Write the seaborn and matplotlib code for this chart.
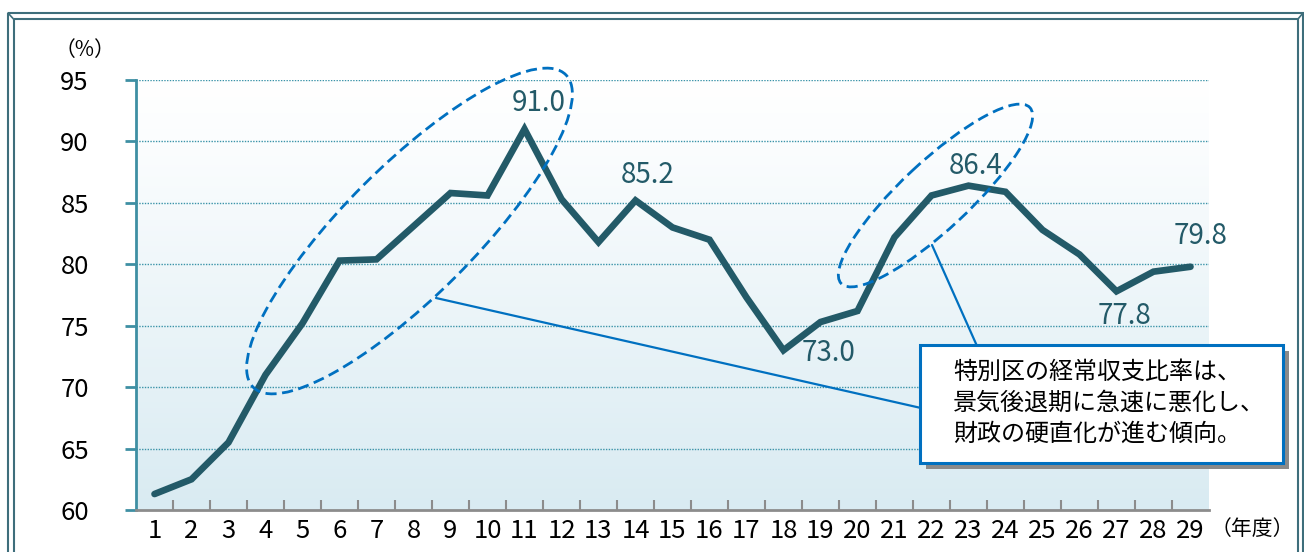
import numpy as np
import pandas as pd
import seaborn as sns
import matplotlib
matplotlib.use("Agg")
import matplotlib.pyplot as plt
from matplotlib.patches import Ellipse, Rectangle
from matplotlib.lines import Line2D
from matplotlib.transforms import Affine2D

# データ（年度と経常収支比率）
years = list(range(1, 30))
ratios = [61.3, 62.5, 65.5, 71.0, 75.2, 80.3, 80.4, 83.1, 85.8, 85.6,
          91.0, 85.3, 81.8, 85.2, 83.0, 82.0, 77.3, 73.0, 75.3, 76.2,
          82.2, 85.6, 86.4, 85.9, 82.8, 80.8, 77.8, 79.4, 79.8]
label_years = [11, 14, 18, 23, 27, 29]
y_ticks = [60, 65, 70, 75, 80, 85, 90, 95]
callout_text = "特別区の経常収支比率は、\n景気後退期に急速に悪化し、\n財政の硬直化が進む傾向。"

W, H = 1304, 552
sns.set_theme(style="white")
plt.rcParams['font.family'] = ['Noto Sans CJK JP', 'DejaVu Sans']

fig = plt.figure(figsize=(W / 100, H / 100), dpi=100)
fig.patch.set_facecolor("white")
ax = fig.add_axes([136 / W, 42 / H, 1073 / W, 430 / H])

# 画像座標(px)で描くための変換
px = Affine2D().scale(1 / W, -1 / H).translate(0, 1) + fig.transFigure

# 背景グラデーション
grad = np.linspace(0, 1, 256).reshape(-1, 1)
cmap = matplotlib.colors.LinearSegmentedColormap.from_list(
    "bg", [(0, "#ffffff"), (0.15, "#fbfdfe"), (1, "#d9ebf2")])
ax.imshow(grad, aspect="auto", cmap=cmap, extent=[0, 1, 0, 1],
          transform=ax.transAxes, zorder=0)

df = pd.DataFrame({"year": years, "ratio": ratios})
sns.lineplot(data=df, x="year", y="ratio", ax=ax, color="#235a68",
             linewidth=4.8, zorder=5)
ax.lines[-1].set_solid_joinstyle("miter")

ax.set_xlim(0.5, 29.5)
ax.set_ylim(60, 95)
ax.set_xlabel("")
ax.set_ylabel("")

# 目盛
ax.set_yticks(y_ticks)
ax.set_yticklabels([str(t) for t in y_ticks], fontsize=18.5, color="black")
ax.tick_params(axis="y", direction="out", length=8, width=2, color="#3e8fa3",
               pad=26, left=True)
ax.set_xticks(years)
ax.set_xticklabels([str(y) for y in years], fontsize=18.5, color="black")
ax.set_xticks(np.arange(1.5, 29, 1), minor=True)
ax.tick_params(axis="x", which="major", length=0, pad=6)
ax.tick_params(axis="x", which="minor", direction="in", length=7, width=1.5,
               color="#8c8c8c", bottom=True)

for yv in y_ticks[1:]:
    ax.axhline(yv, color="#3a93a8", linestyle=(0, (1, 1)), linewidth=1.0,
               zorder=1)

for s in ["top", "right"]:
    ax.spines[s].set_visible(False)
ax.spines["left"].set_color("#3e8fa3")
ax.spines["left"].set_linewidth(2)
ax.spines["bottom"].set_color("#8c8c8c")
ax.spines["bottom"].set_linewidth(2)
ax.spines["left"].set_zorder(6)
ax.spines["bottom"].set_zorder(6)

# データラベル
offsets = {11: (14, 26), 14: (12, 25), 18: (45, -3), 23: (7, 20),
           27: (8, -25), 29: (10, 31)}
for yr in label_years:
    v = ratios[yr - 1]
    ax.annotate(f"{v:.1f}", xy=(yr, v), xytext=offsets[yr],
                textcoords="offset pixels", ha="center", va="center",
                fontsize=20, color="#235a68", zorder=7)

# 軸タイトル
fig.text(85 / W, 1 - 50 / H, "（%）", fontsize=15, ha="center",
         va="center", color="black")
fig.text(1252 / W, 1 - 529 / H, "（年度）", fontsize=15, ha="center",
         va="center", color="black")

# 点線の楕円
blue = "#0070c0"
for cx, cy, a, b, ang in [(409.5, 231, 221, 65, 45), (935.5, 195.5, 129, 34, 43)]:
    fig.patches.append(Ellipse((cx, cy), 2 * a, 2 * b, angle=-ang,
                               transform=px, fill=False, edgecolor=blue,
                               linewidth=2, linestyle=(0, (4, 2)), zorder=8))

# 引き出し線
for (x0, y0), (x1, y1) in [((436, 298), (921, 408)), ((932, 245), (977, 346))]:
    fig.lines.append(Line2D([x0, x1], [y0, y1], transform=px, color=blue,
                            linewidth=1.6, zorder=8))

# 吹き出し
fig.patches.append(Rectangle((926, 351), 363, 118, transform=px,
                             facecolor="#8a8a8a", edgecolor="none", zorder=9))
fig.patches.append(Rectangle((920, 345), 363, 118, transform=px,
                             facecolor="white", edgecolor=blue, linewidth=2.2,
                             zorder=10))
fig.text(953 / W, 1 - 403 / H, callout_text, fontsize=17.3, ha="left",
         va="center", linespacing=1.25, color="black", zorder=11)

# 外枠（面取り風）
frame = "#3e6e7b"
fig.patches.append(Rectangle((8, 13), 1295, 560, transform=px, fill=False,
                             edgecolor=frame, linewidth=1.5, zorder=12))
fig.patches.append(Rectangle((13.5, 19), 1284.5, 560, transform=px, fill=False,
                             edgecolor=frame, linewidth=1.5, zorder=12))
for (x0, y0), (x1, y1) in [((8, 13), (13.5, 19)), ((1303, 13), (1298, 19))]:
    fig.lines.append(Line2D([x0, x1], [y0, y1], transform=px, color=frame,
                            linewidth=1.2, zorder=12))

fig.savefig("out.png", dpi=100)
